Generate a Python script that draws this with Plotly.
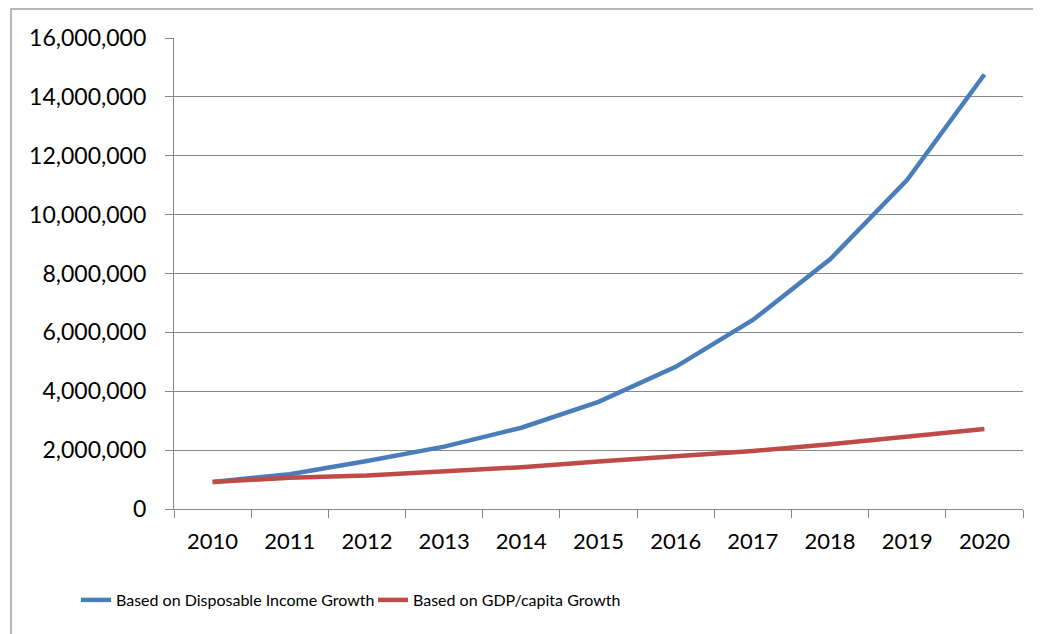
import plotly.graph_objects as go

years = ["2010", "2011", "2012", "2013", "2014", "2015", "2016", "2017", "2018", "2019", "2020"]
disposable_income = [920000, 1180000, 1630000, 2120000, 2760000, 3640000, 4830000, 6420000, 8480000, 11180000, 14760000]
gdp_capita = [920000, 1060000, 1140000, 1270000, 1420000, 1610000, 1800000, 1970000, 2200000, 2460000, 2720000]
y_ticks = [0, 2000000, 4000000, 6000000, 8000000, 10000000, 12000000, 14000000, 16000000]

BLUE = "#4A7EBB"
RED = "#BE4B48"
GRID = "#878787"
FONT = "Lato"

W, H = 1033, 626  # page body has an 8px margin

fig = go.Figure()
fig.add_trace(go.Scatter(x=years, y=disposable_income, mode="lines",
                         name="Based on Disposable Income Growth",
                         line=dict(color=BLUE, width=4.5)))
fig.add_trace(go.Scatter(x=years, y=gdp_capita, mode="lines",
                         name="Based on GDP/capita Growth",
                         line=dict(color=RED, width=4.5)))

fig.update_layout(
    width=W, height=H,
    margin=dict(l=166, r=18, t=30, b=125, autoexpand=False),
    paper_bgcolor="white", plot_bgcolor="white",
    font=dict(family=FONT, size=23, color="black"),
    showlegend=True,
    legend=dict(orientation="h", xref="container", yref="container",
                x=68 / W, xanchor="left", y=1 - 592 / H, yanchor="middle",
                font=dict(family=FONT, size=16, color="black"),
                entrywidth=252, entrywidthmode="pixels", itemwidth=30,
                bgcolor="rgba(0,0,0,0)"),
    shapes=[dict(type="rect", xref="paper", yref="paper",
                 x0=-163/849, x1=1.03, y0=-0.3, y1=1 + 29/471,
                 line=dict(color="#A0A0A0", width=1.5))],
)

fig.update_xaxes(type="category", tickson="boundaries", ticks="outside", ticklen=8,
                 tickcolor=GRID, tickwidth=1.3, showline=True, linecolor=GRID, linewidth=1.3,
                 showgrid=False, range=[-0.5, 10.5], tickfont=dict(size=22), ticklabelstandoff=12)
fig.update_yaxes(range=[0, 16000000], tickvals=y_ticks, tickformat=",d", ticks="outside",
                 ticklen=8, tickcolor=GRID, tickwidth=1.3, showline=True, linecolor=GRID,
                 linewidth=1.3, showgrid=True, gridcolor=GRID, gridwidth=1.3,
                 zeroline=False, tickfont=dict(size=23), ticklabelstandoff=14)

fig.write_html("out.html")
